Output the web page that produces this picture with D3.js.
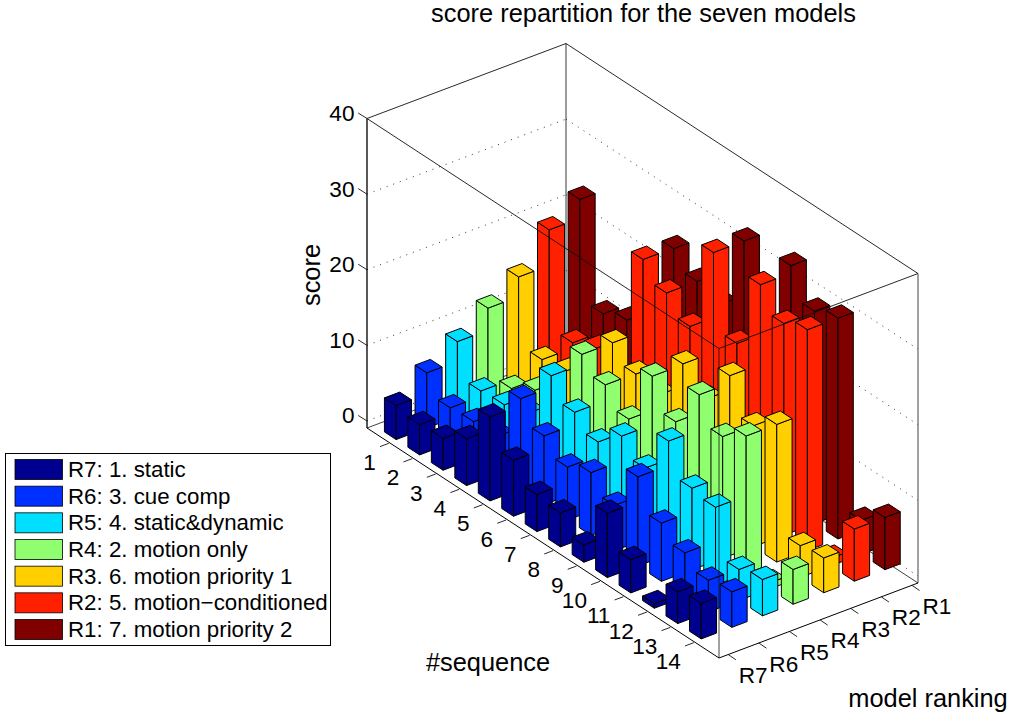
<!DOCTYPE html>
<html>
<head>
<meta charset="utf-8">
<script src="https://d3js.org/d3.v7.min.js"></script>
<style>
html,body{margin:0;padding:0;background:#fff}
svg{display:block}
text{font-family:"Liberation Sans",Arial,sans-serif;fill:#000}
</style>
</head>
<body>
<svg id="c" width="1011" height="719"></svg>
<script>
const titleText = "score repartition for the seven models";
const sequences = [1,2,3,4,5,6,7,8,9,10,11,12,13,14];
const rankLabels = ["R7","R6","R5","R4","R3","R2","R1"];
const zTicks = [0,10,20,30,40];
const legendLabels = ["R7: 1. static","R6: 3. cue comp","R5: 4. static&dynamic","R4: 2. motion only","R3. 6. motion priority 1","R2: 5. motion\u2212conditioned","R1: 7. motion priority 2"];
const colors = ["#00008f","#0030ff","#00dfff","#8fff70","#ffcf00","#ff2000","#800000"];

const r7 = [4.5,4.0,4.2,6.2,11.1,7.4,4.9,4.5,2.3,8.5,4.4,0.6,4.2,4.7];
const r6 = [7.3,4.7,4.9,5.0,12.0,9.1,7.0,8.3,6.0,11.8,7.7,5.8,4.2,4.7];
const r5 = [9.9,5.4,5.6,6.5,13.5,10.7,8.8,11.6,9.4,15.0,10.8,10.3,4.1,4.8];
const r4 = [12.8,4.2,6.0,4.5,14.8,12.8,10.3,18.0,14.0,19.6,16.1,18.2,0.8,4.6];
const r3 = [15.4,6.5,7.0,6.0,14.8,12.7,12.0,18.1,15.5,20.6,16.0,18.2,4.2,4.6];
const r2 = [20.1,7.2,8.5,6.0,24.3,21.9,19.5,31.3,21.3,31.1,28.0,29.2,1.0,6.9];
const r1 = [22.6,9.5,10.7,8.0,24.2,21.9,20.9,31.3,18.0,32.1,28.1,29.2,4.5,6.9];
const seriesValues = [r7,r6,r5,r4,r3,r2,r1];

const seqLim = [0,15], rankLim = [0.7,7.2], zLim = [-0.93,40];
const origin = [367,428];
const sX = d3.scaleLinear().domain(seqLim).range([0,352]);
const sY = d3.scaleLinear().domain(seqLim).range([0,230]);
const rX = d3.scaleLinear().domain(rankLim).range([0,199]);
const rY = d3.scaleLinear().domain(rankLim).range([0,-75]);
const zY = d3.scaleLinear().domain(zLim).range([0,-309.5]);
const P = (s,r,z) => [origin[0]+sX(s)+rX(r), origin[1]+sY(s)+rY(r)+zY(z)];
const barNudge = 1.7;
const PB = (s,r,z) => { const p = P(s,r,z); return [p[0]-barNudge, p[1]]; };

const svg = d3.select("#c");
const line = d3.line();
const seg = (g,a,b,w,c,dash) => g.append("path").attr("d",line([a,b])).attr("fill","none")
  .attr("stroke",c||"#000").attr("stroke-width",w||0.8).attr("stroke-dasharray",dash||null);

const [s0,s1] = seqLim, [r0,r1_] = rankLim, [z0,z1] = zLim;

// back walls
const back = svg.append("g");
zTicks.forEach(z=>{
  if(z<z1){
    seg(back,P(s0,r0,z),P(s0,r1_,z),0.8,"#000","1 6");
    seg(back,P(s0,r1_,z),P(s1,r1_,z),0.8,"#000","1 6");
  }
});
seg(back,P(s0,r0,z0),P(s0,r1_,z0),0.8,"#111");
seg(back,P(s0,r1_,z0),P(s1,r1_,z0),0.8,"#111");
seg(back,P(s0,r1_,z0),P(s0,r1_,z1),0.9,"#222");
seg(back,P(s0,r0,z1),P(s0,r1_,z1),0.9,"#111");
seg(back,P(s0,r1_,z1),P(s1,r1_,z1),0.9,"#111");
seg(back,P(s0,r0,z0),P(s0,r0,z1),1.4,"#111");
seg(back,P(s1,r1_,z0),P(s1,r1_,z1),0.8,"#111");

// bars, back to front
const hw = 0.25;
const bars = svg.append("g").attr("stroke","#000").attr("stroke-width",1).attr("stroke-linejoin","round");
const poly = pts => d3.line()(pts)+"Z";
for(let ri=6;ri>=0;ri--){
  const r = ri+1;
  const col = colors[ri];
  sequences.forEach((s,i)=>{
    const z = seriesValues[ri][i];
    const g = bars.append("g").attr("fill",col);
    g.append("path").attr("d",poly([PB(s-hw,r-hw,0),PB(s+hw,r-hw,0),PB(s+hw,r-hw,z),PB(s-hw,r-hw,z)]));
    g.append("path").attr("d",poly([PB(s+hw,r-hw,0),PB(s+hw,r+hw,0),PB(s+hw,r+hw,z),PB(s+hw,r-hw,z)]));
    g.append("path").attr("d",poly([PB(s-hw,r-hw,z),PB(s+hw,r-hw,z),PB(s+hw,r+hw,z),PB(s-hw,r+hw,z)]));
  });
}

// front box edges & ticks
const front = svg.append("g");
seg(front,P(s0,r0,z1),P(s1,r0,z1),0.9,"#111");
seg(front,P(s1,r0,z1),P(s1,r1_,z1),0.9,"#111");
seg(front,P(s1,r0,z0),P(s1,r0,z1),0.8,"#111");
seg(front,P(s0,r0,z0),P(s1,r0,z0),1,"#000");
seg(front,P(s1,r0,z0),P(s1,r1_,z0),1,"#000");

const fontTick = 22.6;
zTicks.forEach(z=>{
  const a = P(s0,r0,z);
  seg(front,a,[a[0]-8.8,a[1]-5.5],0.9,"#111");
  front.append("text").attr("x",a[0]-12.5).attr("y",a[1]-5).attr("text-anchor","end")
    .attr("dominant-baseline","central").attr("font-size",fontTick).text(z);
});
sequences.forEach(s=>{
  const a = PB(s,r0,z0);
  seg(front,a,[a[0]-8.8,a[1]+3.3],0.9,"#111");
  front.append("text").attr("x",a[0]-13).attr("y",a[1]+19).attr("text-anchor","end")
    .attr("dominant-baseline","central").attr("font-size",fontTick).text(s);
});
rankLabels.forEach((t,i)=>{
  const a = P(s1,i+1,z0);
  seg(front,a,[a[0]+7.7,a[1]+5.2],0.9,"#111");
  front.append("text").attr("x",a[0]+25).attr("y",a[1]+21).attr("text-anchor","middle")
    .attr("dominant-baseline","central").attr("font-size",fontTick).text(t);
});

// titles
svg.append("text").attr("x",643.5).attr("y",22).attr("text-anchor","middle").attr("font-size",25.4).text(titleText);
svg.append("text").attr("x",488).attr("y",671).attr("text-anchor","middle").attr("font-size",25.4).text("#sequence");
svg.append("text").attr("x",928).attr("y",707).attr("text-anchor","middle").attr("font-size",25.4).text("model ranking");
svg.append("text").attr("transform","translate(320,275) rotate(-90)").attr("text-anchor","middle").attr("font-size",25.4).text("score");

// legend
const lg = svg.append("g");
lg.append("rect").attr("x",5.5).attr("y",453.5).attr("width",325).attr("height",192).attr("fill","#fff").attr("stroke","#000").attr("stroke-width",1);
const rowY = d3.scalePoint().domain(legendLabels).range([469.5,629.5]);
legendLabels.forEach((t,i)=>{
  const y = rowY(t);
  lg.append("rect").attr("x",15).attr("y",y-10).attr("width",47.5).attr("height",20).attr("fill",colors[i]).attr("stroke","#000").attr("stroke-width",0.8);
  lg.append("text").attr("x",68).attr("y",y).attr("dominant-baseline","central").attr("font-size",22.3).text(t);
});
</script>
</body>
</html>
